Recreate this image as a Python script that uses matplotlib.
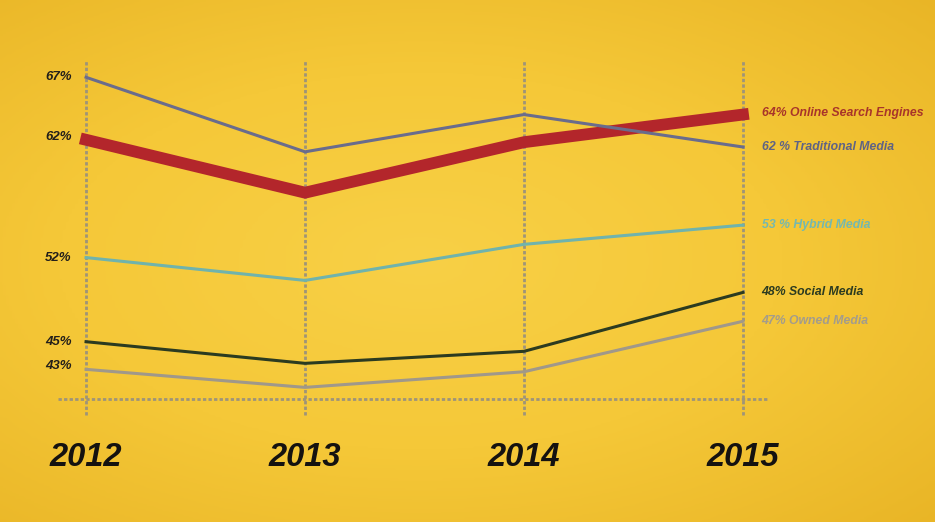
import matplotlib
matplotlib.use("Agg")
import matplotlib.pyplot as plt
import numpy as np
from matplotlib.colors import LinearSegmentedColormap

# values (percent)
years = [2012, 2013, 2014, 2015]
search = [61.8, 57.4, 61.6, 63.9]
traditional = [67.0, 60.8, 63.9, 61.2]
hybrid = [52.0, 50.1, 53.1, 54.7]
social = [45.0, 43.2, 44.2, 49.1]
owned = [42.7, 41.2, 42.5, 46.7]

tick_values = [67, 62, 52, 45, 43]
tick_labels = ["67%", "62%", "52%", "45%", "43%"]
end_labels = ["64% Online Search Engines", "62 % Traditional Media", "53 % Hybrid Media",
              "48% Social Media", "47% Owned Media"]

series = [search, traditional, hybrid, social, owned]
colors = ["#B3262B", "#6A6C8C", "#70B3AC", "#2C3B20", "#A0988A"]
text_colors = ["#A8342A", "#5F6385", "#74B8B0", "#2C3B20", "#A39C8C"]
widths = [8.5, 2.2, 2.2, 2.2, 2.2]

fig = plt.figure(figsize=(9.35, 5.22), dpi=100)
ax = fig.add_axes([0, 0, 1, 1])
ax.set_xlim(2011.607, 2015.877)
ax.set_ylim(30.0, 73.43)
ax.axis("off")

# yellow paper background with soft vignette
yy, xx = np.mgrid[-1:1:200j, -1:1:300j]
r = np.sqrt((xx + 0.1) ** 2 * 0.7 + yy ** 2 * 0.8)
cmap = LinearSegmentedColormap.from_list("paper", ["#F8D046", "#F5C838", "#E9B526"])
ax.imshow(r, cmap=cmap, extent=[2011.607, 2015.877, 30.0, 73.43], aspect="auto",
          zorder=0, vmin=0, vmax=1.3)

grid_color = "#9E9479"
dots = (0, (1.2, 0.8))
ax.vlines(years, 38.9, 68.4, colors=grid_color, linestyles=[dots], linewidth=2, zorder=1)
ax.hlines(40.2, 2011.87, 2015.12, colors=grid_color, linestyles=[dots], linewidth=2, zorder=1)

for vals, c, lw in zip(series, colors, widths):
    ax.plot(years, vals, color=c, linewidth=lw, solid_joinstyle="miter", zorder=3)

font = ["Liberation Sans", "DejaVu Sans"]
for v, lab in zip(tick_values, tick_labels):
    ax.text(2011.935, v, lab, ha="right", va="center", fontsize=9.5, fontweight="bold",
            style="italic", color="#231F1A", family=font)

for y in years:
    ax.text(y, 35.35, str(y), ha="center", va="center", fontsize=23.5, fontweight="bold",
            style="italic", color="#151210", family=font)

label_y = [64.0, 61.2, 54.7, 49.1, 46.7]
for ly, lab, c in zip(label_y, end_labels, text_colors):
    ax.text(2015.085, ly, lab, ha="left", va="center", fontsize=8.8, fontweight="bold",
            style="italic", color=c, family=font)

fig.savefig("out.png", dpi=100)
